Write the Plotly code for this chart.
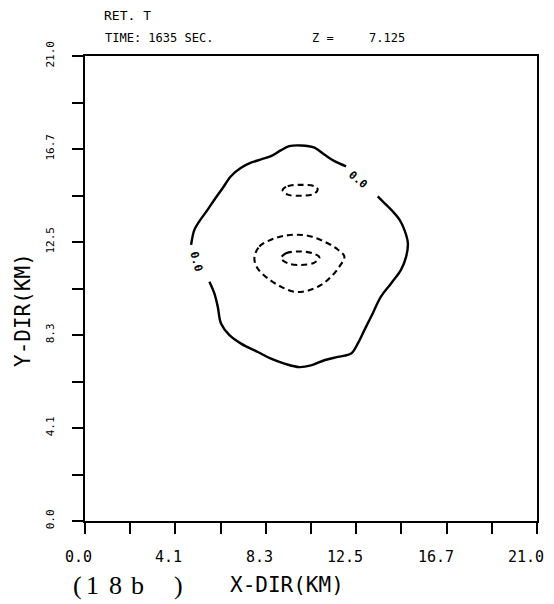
import plotly.graph_objects as go

# ---- data (km) ----
outer_a_x = [13.60, 13.91, 14.30, 14.61, 14.84, 15.00, 14.92, 14.68, 14.22, 13.75, 13.29, 12.98, 12.67, 12.36,
             11.74, 11.12, 10.50, 9.96, 9.26, 8.64, 8.03, 7.25, 6.71, 6.32, 6.17, 6.01, 5.78]
outer_a_y = [14.66, 14.36, 13.98, 13.61, 13.15, 12.55, 11.94, 11.34, 10.73, 10.13, 9.22, 8.62, 8.01, 7.56,
             7.41, 7.26, 7.03, 6.95, 7.11, 7.33, 7.63, 8.01, 8.39, 8.92, 9.67, 10.28, 10.81]
outer_b_x = [4.93, 5.08, 5.31, 5.70, 6.01, 6.40, 6.78, 7.25, 7.71, 8.18, 8.64, 9.11, 9.49, 10.04, 10.66,
             11.12, 11.59, 12.13]
outer_b_y = [12.47, 13.15, 13.53, 14.06, 14.51, 15.04, 15.57, 15.95, 16.18, 16.33, 16.48, 16.75, 16.93, 16.96,
             16.86, 16.55, 16.25, 16.02]

mid_x = [7.87, 8.10, 8.64, 9.26, 9.88, 10.50, 11.12, 11.66, 12.05, 11.82, 11.43, 10.97, 10.35, 9.73, 9.11, 8.49, 8.02, 7.87]
mid_y = [11.87, 12.40, 12.70, 12.88, 12.93, 12.85, 12.62, 12.32, 11.94, 11.49, 11.03, 10.66, 10.40, 10.35, 10.58, 10.96, 11.41, 11.87]

inner_x = [9.11, 9.34, 9.96, 10.58, 10.89, 10.66, 10.04, 9.42, 9.11]
inner_y = [11.87, 12.09, 12.17, 12.09, 11.91, 11.67, 11.56, 11.64, 11.87]

top_x = [9.18, 9.42, 10.04, 10.66, 10.81, 10.63, 10.04, 9.42, 9.18]
top_y = [14.94, 15.12, 15.18, 15.12, 14.97, 14.77, 14.69, 14.74, 14.94]

tick_vals = [0.0, 2.1, 4.2, 6.3, 8.4, 10.5, 12.6, 14.7, 16.8, 18.9, 21.0]
tick_text = ["0.0", "", "4.1", "", "8.3", "", "12.5", "", "16.7", "", "21.0"]

label_x = [12.67, 5.16]
label_y = [15.42, 11.71]
label_angle = [40, 75]

FONT = "DejaVu Sans Mono"
OFF = 8  # page body margin offset
W, H = 546, 596
L, T = 85 - OFF, 56 - OFF
R = W - (537 - OFF)
B = H - (521 - OFF)
PW, PH = W - L - R, H - T - B


def px(x):
    return (x - OFF - L) / PW


def py(y):
    return (H - B - (y - OFF)) / PH


fig = go.Figure()
for xs, ys in [(outer_a_x, outer_a_y), (outer_b_x, outer_b_y)]:
    fig.add_trace(go.Scatter(x=xs, y=ys, mode="lines", line=dict(color="black", width=2.4, shape="spline"),
                             showlegend=False, hoverinfo="skip"))
for xs, ys in [(mid_x, mid_y), (inner_x, inner_y), (top_x, top_y)]:
    fig.add_trace(go.Scatter(x=xs, y=ys, mode="lines",
                             line=dict(color="black", width=2.1, dash="6px,4px", shape="spline"),
                             showlegend=False, hoverinfo="skip"))

for lx, ly, la in zip(label_x, label_y, label_angle):
    fig.add_annotation(x=lx, y=ly, text="<b>0.0</b>", showarrow=False, textangle=la,
                       font=dict(family=FONT, size=11, color="black"))

axis_common = dict(range=[0, 21], tickvals=tick_vals, ticks="outside", ticklen=11,
                   tickwidth=2, tickcolor="black", showline=True, linecolor="black", linewidth=2,
                   mirror=True, showgrid=False, zeroline=False, automargin=False)

# x tick labels in the original sit right-aligned near each tick: drawn as text on the x scale
fig.update_xaxes(**axis_common, showticklabels=False)
fig.update_yaxes(**axis_common, ticktext=tick_text, tickangle=-90, ticklabelstandoff=14,
                 ticklabeloverflow="allow",
                 tickfont=dict(family=FONT, size=11, color="black"))

for tv, tt in zip(tick_vals, tick_text):
    if tt:
        fig.add_annotation(x=tv, xref="x", yref="paper", y=py(557), xanchor="right", yanchor="middle",
                           xshift=9, text=tt, showarrow=False,
                           font=dict(family=FONT, size=15, color="black"))

fig.update_layout(
    width=W, height=H,
    margin=dict(l=L, r=R, t=T, b=B),
    paper_bgcolor="white", plot_bgcolor="white",
    font=dict(family=FONT, color="black"),
)

ann = [
    dict(text="RET. T", x=102, y=15, s=13),
    dict(text="TIME: 1635 SEC.", x=103, y=38, s=12),
    dict(text="Z =", x=310, y=38, s=12),
    dict(text="7.125", x=367, y=38, s=12),
]
for a in ann:
    fig.add_annotation(xref="paper", yref="paper", x=px(a["x"]), y=py(a["y"]),
                       xanchor="left", yanchor="middle", text=a["text"], showarrow=False,
                       font=dict(family=FONT, size=a["s"], color="black"))

fig.add_annotation(xref="paper", yref="paper", x=px(287), y=py(585),
                   xanchor="center", yanchor="middle", text="X-DIR(KM)", showarrow=False,
                   font=dict(family=FONT, size=21, color="black"))
fig.add_annotation(xref="paper", yref="paper", x=px(23), y=py(310),
                   xanchor="center", yanchor="middle", text="Y-DIR(KM)", showarrow=False, textangle=-90,
                   font=dict(family=FONT, size=21, color="black"))

for ch, cx in [("(", 77), ("1", 92), ("8", 115), ("b", 137), (")", 178)]:
    fig.add_annotation(xref="paper", yref="paper", x=px(cx), y=py(585),
                       xanchor="center", yanchor="middle", text=ch, showarrow=False,
                       font=dict(family="Liberation Serif", size=26, color="black"))

fig.write_html("out.html")
